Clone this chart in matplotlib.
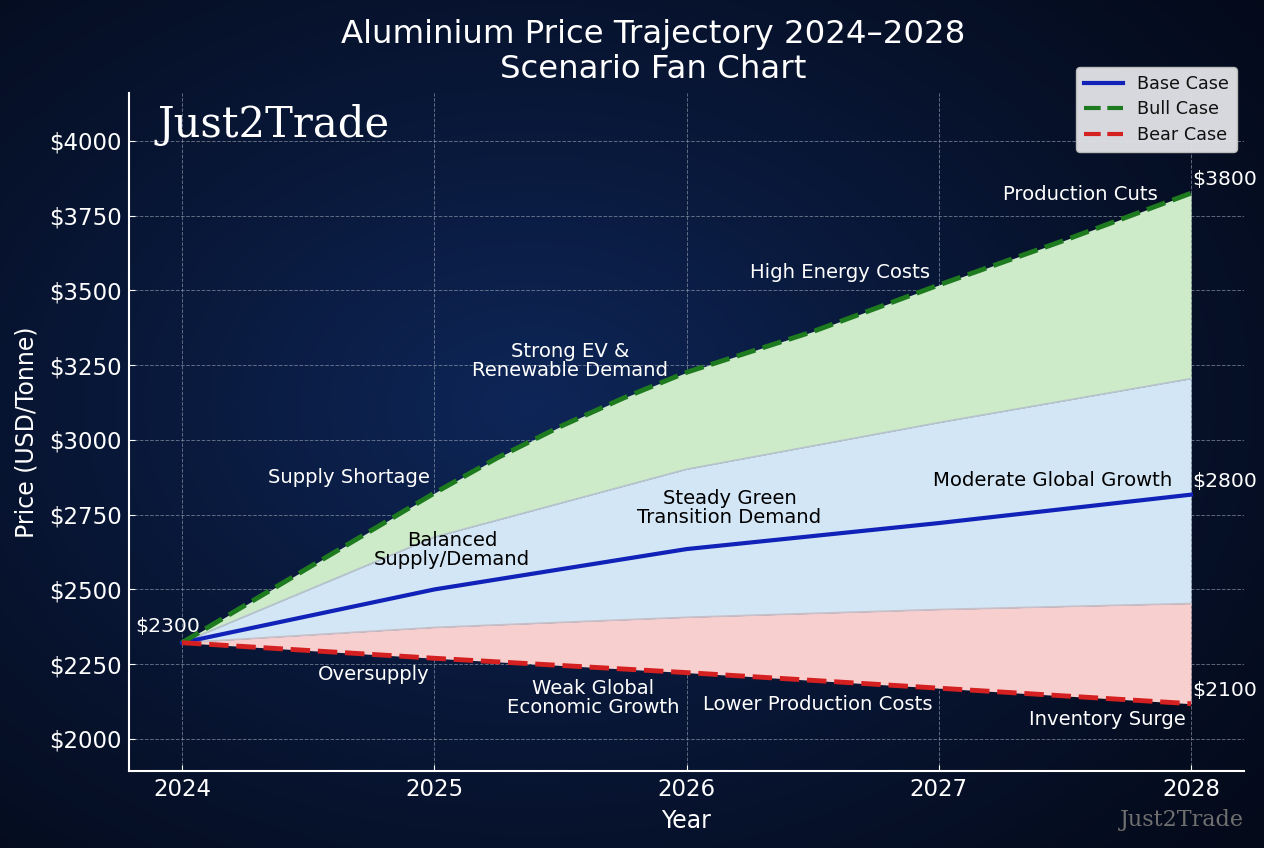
import numpy as np
import matplotlib
matplotlib.use("Agg")
import matplotlib.pyplot as plt
from matplotlib.lines import Line2D

# ---- data ----
years = [2024, 2025, 2026, 2027, 2028]
base_case = [2322, 2500, 2635, 2722, 2817]
bear_case = [2322, 2270, 2222, 2170, 2118]
bull_years = [2024, 2024.5, 2025, 2025.25, 2025.5, 2025.75, 2026, 2026.5, 2027, 2027.5, 2028]
bull_case = [2322, 2572, 2822, 2940, 3045, 3140, 3226, 3362, 3518, 3668, 3825]
upper_band = [2322, 2675, 2902, 3058, 3205]   # green / blue boundary
lower_band = [2322, 2373, 2407, 2433, 2453]   # blue / red boundary

end_labels = ["$2300", "$3800", "$2800", "$2100"]
tick_years = [2024, 2025, 2026, 2027, 2028]
y_ticks = [2000, 2250, 2500, 2750, 3000, 3250, 3500, 3750, 4000]

annotations = [
    ("Supply Shortage", 2024.66, 2876, "white"),
    ("Balanced\nSupply/Demand", 2025.07, 2632, "black"),
    ("Oversupply", 2024.76, 2214, "white"),
    ("Strong EV &\nRenewable Demand", 2025.54, 3264, "white"),
    ("Steady Green\nTransition Demand", 2026.17, 2773, "black"),
    ("Weak Global\nEconomic Growth", 2025.63, 2137, "white"),
    ("High Energy Costs", 2026.61, 3559, "white"),
    ("Moderate Global Growth", 2027.45, 2863, "black"),
    ("Lower Production Costs", 2026.52, 2117, "white"),
    ("Production Cuts", 2027.56, 3819, "white"),
    ("Inventory Surge", 2027.67, 2064, "white"),
]

W, H = 1264, 848
fig = plt.figure(figsize=(W / 100, H / 100), dpi=100)

# background gradient
bg = fig.add_axes([0, 0, 1, 1], zorder=-10)
yy, xx = np.mgrid[0:1:300j, 0:1:450j]
r = np.sqrt(((xx - 0.42) / 0.75) ** 2 + ((yy - 0.48) / 0.8) ** 2)
t = np.clip(1 - r, 0, 1) ** 1.2
c0 = np.array([4, 10, 26]) / 255
c1 = np.array([14, 38, 88]) / 255
img = c0[None, None, :] * (1 - t[..., None]) + c1[None, None, :] * t[..., None]
bg.imshow(img, aspect="auto", extent=[0, 1, 0, 1], origin="upper")
bg.axis("off")

ax = fig.add_axes([129 / W, 1 - 771 / H, (1244 - 129) / W, (771 - 93) / H])
ax.patch.set_alpha(0)

bull_fine_x = np.array(bull_years)
upper_fine = np.interp(bull_fine_x, years, upper_band)

ax.fill_between(bull_fine_x, upper_fine, bull_case, color="#cdebc9", lw=0, zorder=2)
ax.fill_between(years, lower_band, upper_band, color="#d3e6f5", lw=0, zorder=2)
ax.fill_between(years, bear_case, lower_band, color="#f7cfcf", lw=0, zorder=2)
ax.plot(years, upper_band, color="#b8c4cc", lw=1.2, zorder=3)
ax.plot(years, lower_band, color="#c8c0c8", lw=1.2, zorder=3)

ax.plot(years, base_case, color="#1022b8", lw=3, label="Base Case", zorder=5)
ax.plot(bull_years, bull_case, color="#1e7a1e", lw=3.5, ls=(0, (4, 1.6)), label="Bull Case", zorder=5)
ax.plot(years, bear_case, color="#d42020", lw=3.5, ls=(0, (4, 1.6)), label="Bear Case", zorder=5)

ax.set_xlim(2023.79, 2028.21)
ax.set_ylim(1893, 4160)
ax.set_xticks(tick_years)
ax.set_xticklabels([str(y) for y in tick_years])
ax.set_yticks(y_ticks)
ax.set_yticklabels([f"${v}" for v in y_ticks])
ax.tick_params(colors="white", labelsize=16.5, length=4, direction="in", pad=5)
for s in ["top", "right"]:
    ax.spines[s].set_visible(False)
for s in ["left", "bottom"]:
    ax.spines[s].set_color("white")
    ax.spines[s].set_linewidth(1.5)
ax.grid(True, color="#9aa3b5", ls="--", lw=0.7, alpha=0.6, zorder=0)
ax.set_axisbelow(True)

ax.set_xlabel("Year", color="white", fontsize=17, labelpad=6)
ax.set_ylabel("Price (USD/Tonne)", color="white", fontsize=17, labelpad=8)

for txt, x, y, col in annotations:
    ax.text(x, y, txt, color=col, fontsize=14.1, ha="center", va="center",
            linespacing=1.0, zorder=6)

# end value labels
ax.text(years[0] + 0.07, base_case[0] + 55, end_labels[0], color="white", fontsize=14.7,
        ha="right", va="center", zorder=6)
ax.text(years[-1] + 0.005, bull_case[-1] + 45, end_labels[1], color="white", fontsize=14.7,
        ha="left", va="center", zorder=6)
ax.text(years[-1] + 0.005, base_case[-1] + 45, end_labels[2], color="white", fontsize=14.7,
        ha="left", va="center", zorder=6)
ax.text(years[-1] + 0.005, bear_case[-1] + 45, end_labels[3], color="white", fontsize=14.7,
        ha="left", va="center", zorder=6)

fig.text(653 / W, 1 - 34 / H, "Aluminium Price Trajectory 2024–2028", color="white",
         fontsize=23.3, ha="center", va="center")
fig.text(653 / W, 1 - 70 / H, "Scenario Fan Chart", color="white",
         fontsize=23.3, ha="center", va="center")

fig.text(157 / W, 1 - 125 / H, "Just2Trade", color="white", fontsize=30,
         family="DejaVu Serif", ha="left", va="center")
fig.text(1244 / W, 1 - 820 / H, "Just2Trade", color="#6f6f6f", fontsize=16,
         family="DejaVu Serif", ha="right", va="center")

handles = [
    Line2D([], [], color="#1022b8", lw=3),
    Line2D([], [], color="#1e7a1e", lw=3, ls=(0, (4, 1.6))),
    Line2D([], [], color="#d42020", lw=3, ls=(0, (4, 1.6))),
]
leg = fig.legend(handles, ["Base Case", "Bull Case", "Bear Case"], loc="upper right",
                 bbox_to_anchor=(1237 / W, 1 - 67 / H), borderaxespad=0, fontsize=12.7,
                 frameon=True, facecolor="#e4e4e8", edgecolor="#c0c0c0", framealpha=0.95,
                 handlelength=2.2, borderpad=0.45, labelspacing=0.42)
for t_ in leg.get_texts():
    t_.set_color("#111111")

fig.savefig("out.png", dpi=100)
